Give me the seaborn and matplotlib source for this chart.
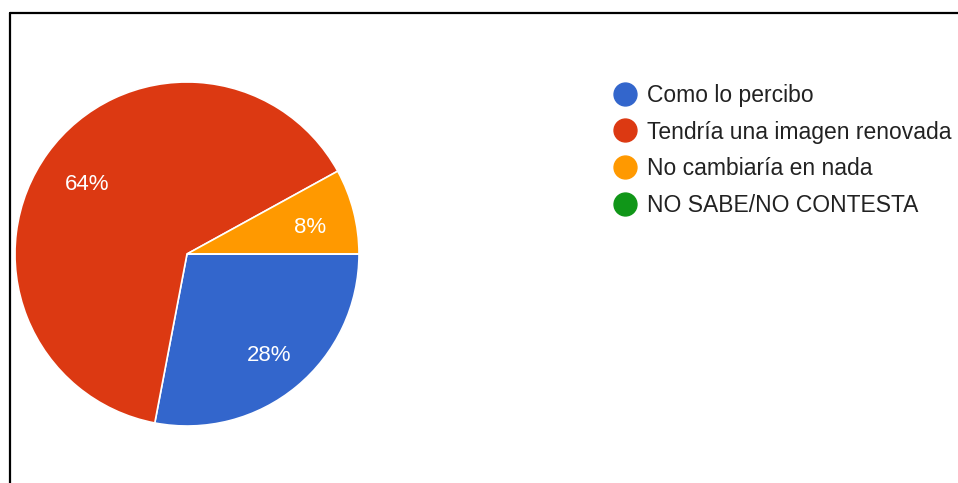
import matplotlib
matplotlib.use("Agg")
import matplotlib.pyplot as plt
from matplotlib.lines import Line2D
import seaborn as sns

# Survey answers and their shares (percent)
categories = ["Como lo percibo", "Tendría una imagen renovada",
              "No cambiaría en nada", "NO SABE/NO CONTESTA"]
shares = [28, 64, 8, 0]
colors = ["#3366CC", "#DC3912", "#FF9900", "#109618"]

sns.set_theme(style="white")
plt.rcParams["font.family"] = ["Liberation Sans", "DejaVu Sans"]
palette = sns.color_palette(colors)

W, H = 958, 483
fig = plt.figure(figsize=(W / 100, H / 100), dpi=100)
fig.patch.set_facecolor("white")

# Pie axes: center (187, 254) px, radius 172 px
cx, cy, r = 187, 254, 172
ax = fig.add_axes([(cx - r) / W, (H - cy - r) / H, 2 * r / W, 2 * r / H])


def pct_label(p):
    return f"{p:.0f}%" if p >= 1 else ""


wedges, _, autotexts = ax.pie(
    shares, colors=palette, startangle=0, counterclock=False,
    autopct=pct_label, pctdistance=0.73,
    wedgeprops=dict(edgecolor="white", linewidth=1.2),
    textprops=dict(color="white", fontsize=16),
)
# nudge the percentage labels slightly downward
for t in autotexts:
    x, y = t.get_position()
    t.set_position((x + 0.01, y - 0.025))
ax.set_xlim(-1, 1)
ax.set_ylim(-1, 1)
ax.set_aspect("equal")

# Legend with round markers
handles = [Line2D([], [], marker="o", linestyle="", markersize=16.5,
                  markerfacecolor=c, markeredgecolor=c) for c in palette]
fig.legend(handles, categories, loc="upper left",
           bbox_to_anchor=(614 / W, 1 - 84 / H), frameon=False,
           fontsize=16.5, labelspacing=0.59, handlelength=1.0,
           handletextpad=0.45, borderpad=0, borderaxespad=0,
           labelcolor="#222222")

# Frame lines along the top and left edges
fig.add_artist(Line2D([10 / W, 1], [1 - 13 / H, 1 - 13 / H], color="black",
                      linewidth=1.6, transform=fig.transFigure))
fig.add_artist(Line2D([10 / W, 10 / W], [0, 1 - 13 / H], color="black",
                      linewidth=1.6, transform=fig.transFigure))

fig.savefig("out.png", dpi=100, facecolor="white")
